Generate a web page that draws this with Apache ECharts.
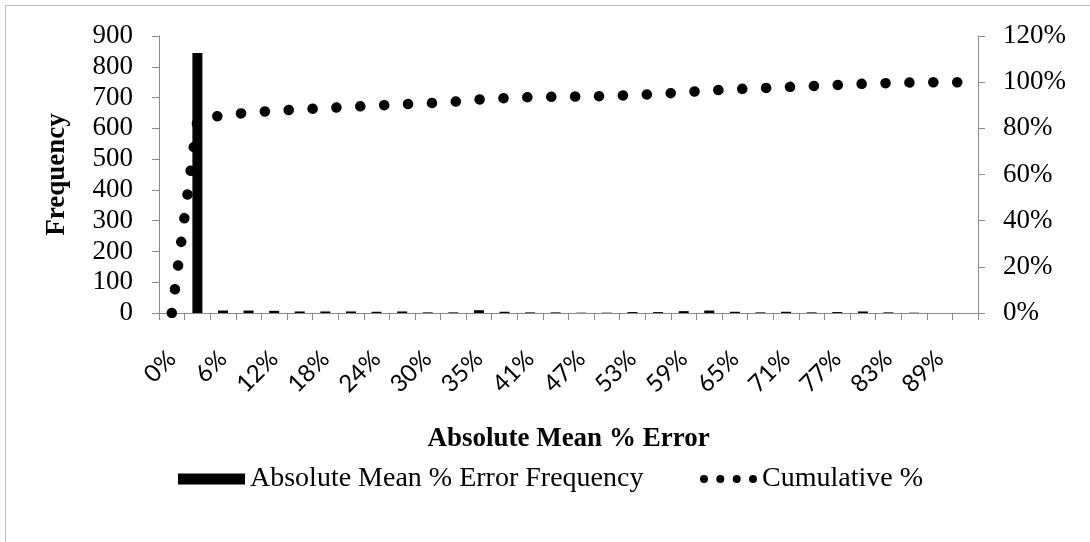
<!DOCTYPE html>
<html>
<head>
<meta charset="utf-8">
<script src="https://cdn.jsdelivr.net/npm/echarts@6/dist/echarts.min.js"></script>
<style>
  html, body { margin: 0; padding: 0; background: #fff; }
  #chart { width: 1090px; height: 542px; }
</style>
</head>
<body>
<div id="chart"></div>
<script>
// bins of the absolute mean % error (every other one is labelled)
var categories = ['0%', '3%', '6%', '9%', '12%', '15%', '18%', '21%', '24%', '27%',
  '30%', '32%', '35%', '38%', '41%', '44%', '47%', '50%', '53%', '56%',
  '59%', '62%', '65%', '68%', '71%', '74%', '77%', '80%', '83%', '86%',
  '89%', '91%'];
// frequency per bin
var frequency = [0, 845, 8, 8, 7, 5, 5, 5, 4, 5,
  2, 2, 9, 4, 2, 2, 1, 1, 3, 3,
  6, 8, 4, 2, 4, 2, 3, 5, 2, 1,
  0, 0];
// cumulative %, as fraction
var cumulative = [0, 0.837, 0.857, 0.868, 0.876, 0.882, 0.888, 0.893, 0.899, 0.904,
  0.909, 0.915, 0.925, 0.931, 0.935, 0.937, 0.938, 0.940, 0.944, 0.949,
  0.956, 0.964, 0.970, 0.974, 0.979, 0.983, 0.988, 0.993, 0.996, 0.999,
  1.0, 1.0];

var serif = 'Liberation Serif';
var axisGray = '#8a8a8a';
// four round dots for the legend icon
var dotsIcon = 'path://M0,4a4,4 0 1,0 8,0a4,4 0 1,0 -8,0Z' +
  'M16.3,4a4,4 0 1,0 8,0a4,4 0 1,0 -8,0Z' +
  'M32.7,4a4,4 0 1,0 8,0a4,4 0 1,0 -8,0Z' +
  'M49,4a4,4 0 1,0 8,0a4,4 0 1,0 -8,0Z';
var legendText = { fontFamily: serif, fontSize: 28, color: '#000' };

var chart = echarts.init(document.getElementById('chart'));
chart.setOption({
  animation: false,
  graphic: [{
    type: 'rect',
    shape: { x: 5.5, y: 5.5, width: 1200, height: 700 },
    style: { fill: 'none', stroke: '#bdbdbd', lineWidth: 1 },
    silent: true
  }],
  grid: { left: 159, top: 36, width: 819, height: 277 },
  legend: [{
    bottom: 44,
    left: 173,
    itemWidth: 67,
    itemHeight: 11,
    textStyle: legendText,
    data: [{ name: 'Absolute Mean % Error Frequency', icon: 'rect' }]
  }, {
    bottom: 44,
    left: 695,
    itemWidth: 57,
    itemHeight: 8,
    textStyle: legendText,
    data: [{ name: 'Cumulative %', icon: dotsIcon, itemStyle: { color: '#000' } }]
  }],
  xAxis: {
    type: 'category',
    data: categories,
    name: 'Absolute Mean % Error',
    nameLocation: 'middle',
    nameGap: 113,
    nameTextStyle: { fontFamily: serif, fontSize: 27, fontWeight: 'bold', color: '#000' },
    axisLine: { lineStyle: { color: axisGray, width: 1 } },
    axisTick: { show: true, interval: 0, length: 7, lineStyle: { color: axisGray } },
    axisLabel: {
      interval: 1,
      rotate: 45,
      margin: 42,
      fontFamily: 'Lato',
      fontSize: 24,
      color: '#000'
    },
    splitLine: { show: false }
  },
  yAxis: [{
    type: 'value',
    min: 0,
    max: 900,
    interval: 100,
    name: 'Frequency',
    nameLocation: 'middle',
    nameRotate: 90,
    nameGap: 88,
    nameTextStyle: { fontFamily: serif, fontSize: 27, fontWeight: 'bold', color: '#000' },
    axisLine: { show: true, lineStyle: { color: axisGray, width: 1 } },
    axisTick: { show: true, length: 7, lineStyle: { color: axisGray } },
    axisLabel: { margin: 26, fontFamily: serif, fontSize: 27, color: '#000' },
    splitLine: { show: false }
  }, {
    type: 'value',
    min: 0,
    max: 1.2,
    interval: 0.2,
    position: 'right',
    axisLine: { show: true, lineStyle: { color: axisGray, width: 1 } },
    axisTick: { show: true, length: 7, lineStyle: { color: axisGray } },
    axisLabel: {
      margin: 25,
      fontFamily: serif,
      fontSize: 27,
      color: '#000',
      formatter: function (v) { return Math.round(v * 100) + '%'; }
    },
    splitLine: { show: false }
  }],
  series: [{
    name: 'Absolute Mean % Error Frequency',
    type: 'bar',
    barWidth: 10,
    itemStyle: { color: '#000' },
    data: frequency
  }, {
    name: 'Cumulative %',
    type: 'line',
    yAxisIndex: 1,
    symbol: 'none',
    showSymbol: false,
    z: 3,
    itemStyle: { color: '#000' },
    lineStyle: { color: '#000', width: 10.5, type: [0.1, 23.8], cap: 'round' },
    data: cumulative
  }]
});
</script>
</body>
</html>
